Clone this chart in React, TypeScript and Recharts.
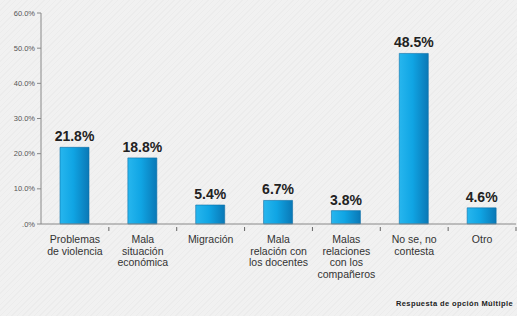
import { BarChart, Bar, XAxis, YAxis, LabelList } from "recharts";

const categories = [
  "Problemas|de violencia",
  "Mala|situación|económica",
  "Migración",
  "Mala|relación con|los docentes",
  "Malas|relaciones|con los|compañeros",
  "No se, no|contesta",
  "Otro",
];
const values = [21.8, 18.8, 5.4, 6.7, 3.8, 48.5, 4.6];
const yTicks = [0, 10, 20, 30, 40, 50, 60];

const data = categories.map((c, i) => ({ name: c, value: values[i] }));

const CategoryTick = (props: any) => {
  const { x, y, payload } = props;
  const lines = String(payload.value).split("|");
  const half = 475 / categories.length / 2;
  return (
    <g>
      <line x1={x + half} y1={y - 5} x2={x + half} y2={y - 1} stroke="#666" strokeWidth={1} />
      <text
        x={x}
        y={y + 11}
        textAnchor="middle"
        fontFamily="Liberation Sans, Arial, sans-serif"
        fontSize={10.5}
        fill="#333"
      >
        {lines.map((l, i) => (
          <tspan key={i} x={x} dy={i === 0 ? 0 : 11.5}>
            {l}
          </tspan>
        ))}
      </text>
    </g>
  );
};

export default function App() {
  return (
    <div
      style={{
        position: "absolute",
        left: 0,
        top: 0,
        width: 517,
        height: 316,
        background:
          "repeating-linear-gradient(135deg, #f1f1f1 0px, #f1f1f1 3px, #ececec 3px, #ececec 4px)",
      }}
    >
      <BarChart
        width={517}
        height={316}
        data={data}
        margin={{ top: 13, right: 1, bottom: 0, left: 0 }}
      >
        <defs>
          <linearGradient id="barGrad" x1="0" y1="0" x2="1" y2="0">
            <stop offset="0%" stopColor="#27b6ee" />
            <stop offset="45%" stopColor="#10a5e4" />
            <stop offset="100%" stopColor="#0a78b6" />
          </linearGradient>
        </defs>
        <YAxis
          width={41}
          domain={[0, 60]}
          ticks={yTicks}
          interval={0}
          tickFormatter={(v: number) => (v === 0 ? ".0%" : `${v.toFixed(1)}%`)}
          tick={{ fontSize: 7.5, fill: "#555", fontFamily: "Liberation Sans, Arial, sans-serif" }}
          tickSize={4}
          axisLine={{ stroke: "#888" }}
          tickLine={{ stroke: "#888" }}
        />
        <XAxis
          dataKey="name"
          height={92}
          interval={0}
          tick={<CategoryTick />}
          tickLine={false}
          axisLine={{ stroke: "#888" }}
        />
        <Bar
          dataKey="value"
          barSize={29}
          fill="url(#barGrad)"
          stroke="#0b6fa8"
          strokeWidth={0.6}
          isAnimationActive={false}
        >
          <LabelList
            dataKey="value"
            position="top"
            offset={6}
            formatter={(v: any) => `${Number(v).toFixed(1)}%`}
            style={{
              fontSize: 14,
              fontWeight: "bold",
              fill: "#222",
              fontFamily: "Liberation Sans, Arial, sans-serif",
            }}
          />
        </Bar>
      </BarChart>
      <div
        style={{
          position: "absolute",
          right: 4,
          top: 299,
          fontSize: 7.5,
          fontWeight: "bold",
          color: "#222",
          letterSpacing: 0.4,
          fontFamily: "Liberation Sans, Arial, sans-serif",
        }}
      >
        Respuesta de opción Múltiple
      </div>
    </div>
  );
}
